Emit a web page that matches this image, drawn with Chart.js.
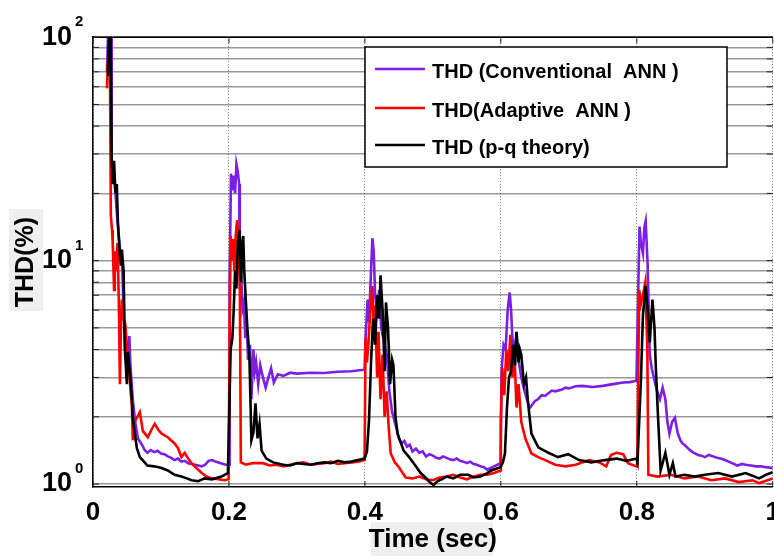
<!DOCTYPE html>
<html>
<head>
<meta charset="utf-8">
<script src="https://cdn.jsdelivr.net/npm/chart.js@4.4.1/dist/chart.umd.min.js"></script>
<style>
  html, body { margin: 0; padding: 0; background: #fff; overflow: hidden; }
  canvas { display: block; }
</style>
</head>
<body>
<canvas id="thdChart" width="790" height="556"></canvas>
<script>
const FONT = "'Liberation Sans', Arial, sans-serif";

// axes
const xTicks = [0, 0.2, 0.4, 0.6, 0.8, 1];
const yTicks = [1, 2, 3, 4, 5, 6, 7, 8, 9, 10, 20, 30, 40, 50, 60, 70, 80, 90, 100];
const yExponents = { 1: '0', 10: '1', 100: '2' };

const seriesNames = ['THD (Conventional  ANN )', 'THD(Adaptive  ANN )', 'THD (p-q theory)'];
const seriesColors = ['#7d1ee6', '#ff0000', '#000000'];

// [time (s), THD (%)]
const thdConventional = [
  [0.0205, 70], [0.022, 100], [0.0265, 100], [0.0275, 28], [0.030, 26], [0.033, 20], [0.036, 15], [0.040, 11],
  [0.043, 9.5], [0.045, 6], [0.047, 4.2], [0.050, 3.2], [0.0535, 4.6], [0.055, 3.4], [0.0585, 2.4], [0.062, 1.9],
  [0.066, 1.6], [0.072, 1.5], [0.076, 1.42], [0.080, 1.38], [0.085, 1.42], [0.090, 1.39], [0.095, 1.41], [0.100, 1.37],
  [0.105, 1.36], [0.110, 1.33], [0.115, 1.31], [0.120, 1.28], [0.125, 1.3], [0.130, 1.26], [0.135, 1.27], [0.140, 1.24],
  [0.150, 1.22], [0.160, 1.2], [0.165, 1.22], [0.170, 1.27], [0.175, 1.28], [0.180, 1.26], [0.188, 1.24], [0.195, 1.22],
  [0.2005, 1.22],
  [0.201, 8], [0.203, 24.5], [0.205, 20.6], [0.207, 24], [0.209, 20], [0.211, 27], [0.213, 25], [0.215, 22],
  [0.216, 7.4], [0.218, 8.5], [0.220, 6.1], [0.222, 6.5], [0.224, 4.5], [0.226, 5.5], [0.228, 3.6], [0.231, 4.2],
  [0.233, 2.4], [0.236, 4.0], [0.238, 3.2], [0.240, 3.5], [0.243, 2.8], [0.246, 3.4], [0.250, 3.0], [0.254, 2.7],
  [0.258, 3.0], [0.262, 3.3], [0.266, 2.85], [0.272, 3.1], [0.280, 3.05], [0.290, 3.15], [0.300, 3.12], [0.320, 3.15],
  [0.340, 3.14], [0.360, 3.18], [0.380, 3.2], [0.3995, 3.25],
  [0.401, 4.5], [0.404, 6.7], [0.406, 5.3], [0.409, 9], [0.411, 12.6], [0.413, 11], [0.415, 7], [0.418, 6],
  [0.421, 7.4], [0.424, 5], [0.427, 4.5], [0.432, 3.8], [0.436, 2.6], [0.440, 2.1], [0.447, 1.75], [0.450, 1.6],
  [0.454, 1.52], [0.458, 1.56], [0.462, 1.47], [0.466, 1.5], [0.470, 1.4], [0.475, 1.44], [0.480, 1.38], [0.485, 1.4],
  [0.490, 1.33], [0.495, 1.36], [0.500, 1.34], [0.505, 1.31], [0.510, 1.3], [0.515, 1.33], [0.520, 1.31], [0.525, 1.29],
  [0.530, 1.28], [0.535, 1.3], [0.540, 1.27], [0.545, 1.26], [0.550, 1.24], [0.555, 1.26], [0.560, 1.23], [0.565, 1.22],
  [0.570, 1.2], [0.575, 1.19], [0.580, 1.16], [0.585, 1.18], [0.590, 1.2], [0.595, 1.22], [0.5995, 1.24],
  [0.601, 3.2], [0.604, 4.2], [0.607, 4.0], [0.610, 6.0], [0.613, 7.2], [0.615, 6], [0.617, 4.5], [0.620, 3.8],
  [0.623, 4.8], [0.626, 3.6], [0.630, 3.0], [0.635, 2.6], [0.640, 2.3], [0.643, 2.2], [0.650, 2.35], [0.655, 2.4],
  [0.660, 2.5], [0.665, 2.48], [0.670, 2.55], [0.675, 2.62], [0.680, 2.6], [0.690, 2.65], [0.695, 2.7], [0.700, 2.68],
  [0.710, 2.74], [0.720, 2.75], [0.735, 2.72], [0.750, 2.75], [0.765, 2.8], [0.780, 2.85], [0.790, 2.86], [0.7995, 2.9],
  [0.801, 5.1], [0.804, 14.2], [0.806, 12], [0.809, 10.8], [0.811, 14], [0.813, 15], [0.816, 9.5], [0.819, 3.8],
  [0.822, 3.3], [0.826, 2.9], [0.830, 2.6], [0.834, 2.4], [0.838, 2.7], [0.842, 2.4], [0.845, 1.9], [0.848, 1.68],
  [0.852, 1.9], [0.856, 1.98], [0.860, 1.7], [0.864, 1.57], [0.867, 1.52], [0.870, 1.5], [0.874, 1.46], [0.879, 1.41],
  [0.884, 1.38], [0.890, 1.35], [0.895, 1.34], [0.900, 1.32], [0.906, 1.35], [0.912, 1.33], [0.918, 1.31], [0.923, 1.3],
  [0.930, 1.28], [0.935, 1.26], [0.940, 1.24], [0.948, 1.21], [0.955, 1.23], [0.960, 1.22], [0.968, 1.21], [0.975, 1.2],
  [0.983, 1.2], [0.990, 1.19], [1.0, 1.18]
];

const thdAdaptive = [
  [0.0205, 59], [0.022, 77], [0.025, 75], [0.0262, 16], [0.028, 13.7], [0.029, 12], [0.031, 7.4], [0.032, 11],
  [0.034, 9], [0.036, 12], [0.038, 6.5], [0.0396, 2.8], [0.041, 5], [0.0425, 6.7], [0.045, 5.5], [0.0475, 5.2],
  [0.0513, 3.65], [0.0545, 2.8], [0.0571, 2.28], [0.0586, 1.57], [0.0615, 1.9], [0.0645, 1.98], [0.0689, 2.1], [0.0733, 1.73],
  [0.0806, 1.62], [0.086, 1.75], [0.0908, 1.86], [0.096, 1.75], [0.101, 1.68], [0.11, 1.62], [0.12, 1.52], [0.125, 1.45],
  [0.13, 1.32], [0.135, 1.38], [0.14, 1.3], [0.145, 1.24], [0.152, 1.18], [0.16, 1.12], [0.167, 1.08], [0.174, 1.06],
  [0.185, 1.05], [0.193, 1.04], [0.1995, 1.05],
  [0.201, 5], [0.2025, 12.9], [0.204, 10], [0.206, 12.5], [0.208, 9], [0.210, 13], [0.212, 15.2], [0.214, 12],
  [0.216, 8], [0.2175, 1.25], [0.225, 1.22], [0.235, 1.24], [0.25, 1.24], [0.26, 1.21], [0.27, 1.22], [0.28, 1.2],
  [0.29, 1.22], [0.30, 1.24], [0.31, 1.25], [0.32, 1.22], [0.33, 1.23], [0.34, 1.24], [0.35, 1.26], [0.36, 1.23],
  [0.37, 1.24], [0.38, 1.25], [0.39, 1.26], [0.3995, 1.28],
  [0.401, 4.5], [0.403, 3.5], [0.405, 4.2], [0.408, 6.0], [0.411, 7.7], [0.413, 5.0], [0.415, 6.3], [0.418, 3.0],
  [0.420, 4.8], [0.423, 2.4], [0.426, 3.8], [0.429, 2.0], [0.432, 2.6], [0.435, 1.8], [0.438, 1.37], [0.444, 1.25],
  [0.45, 1.19], [0.46, 1.07], [0.47, 1.06], [0.48, 1.08], [0.49, 1.05], [0.50, 1.04], [0.51, 1.07], [0.52, 1.08],
  [0.53, 1.1], [0.54, 1.07], [0.55, 1.05], [0.56, 1.08], [0.57, 1.1], [0.58, 1.1], [0.59, 1.12], [0.5995, 1.15],
  [0.600, 1.92], [0.602, 3.3], [0.605, 2.5], [0.608, 4.0], [0.611, 3.2], [0.614, 4.65], [0.617, 3.0], [0.620, 3.8],
  [0.623, 2.2], [0.626, 2.8], [0.630, 1.9], [0.636, 1.6], [0.645, 1.37], [0.655, 1.32], [0.665, 1.28], [0.68, 1.22],
  [0.695, 1.2], [0.71, 1.22], [0.73, 1.28], [0.745, 1.25], [0.755, 1.2], [0.762, 1.35], [0.77, 1.38], [0.78, 1.36],
  [0.787, 1.24], [0.7995, 1.2],
  [0.8005, 1.2], [0.8035, 7.4], [0.806, 6.4], [0.809, 7.0], [0.8125, 8], [0.8155, 4], [0.817, 1.1], [0.83, 1.08],
  [0.85, 1.1], [0.87, 1.06], [0.89, 1.08], [0.91, 1.04], [0.93, 1.06], [0.95, 1.02], [0.97, 1.04], [0.98, 1.01],
  [1.0, 1.06]
];

const thdPq = [
  [0.0205, 68], [0.022, 68], [0.0235, 100], [0.026, 98], [0.0275, 29], [0.029, 22], [0.031, 28], [0.033, 20],
  [0.035, 22], [0.0366, 15], [0.039, 11.2], [0.041, 9.5], [0.0425, 11.2], [0.045, 9], [0.0469, 4], [0.0498, 2.8],
  [0.0513, 3.9], [0.0542, 3.2], [0.0571, 2.4], [0.0586, 1.98], [0.0615, 1.68], [0.0645, 1.45], [0.0689, 1.32], [0.075, 1.26],
  [0.08, 1.21], [0.09, 1.2], [0.101, 1.18], [0.11, 1.15], [0.12, 1.1], [0.13, 1.08], [0.138, 1.06], [0.145, 1.04],
  [0.155, 1.03], [0.164, 1.06], [0.175, 1.05], [0.189, 1.08], [0.1985, 1.12],
  [0.201, 2.5], [0.2025, 4.0], [0.205, 4.5], [0.207, 6], [0.209, 9], [0.211, 7.5], [0.213, 12], [0.2155, 13.7],
  [0.218, 8], [0.2195, 12], [0.221, 12.9], [0.2225, 9], [0.224, 7.4], [0.227, 5], [0.230, 3.8], [0.233, 1.57],
  [0.236, 1.7], [0.239, 2.3], [0.242, 1.6], [0.245, 1.86], [0.248, 1.41], [0.255, 1.3], [0.265, 1.25], [0.28, 1.22],
  [0.29, 1.21], [0.30, 1.24], [0.31, 1.23], [0.32, 1.22], [0.33, 1.24], [0.34, 1.25], [0.35, 1.24], [0.36, 1.27],
  [0.37, 1.25], [0.38, 1.26], [0.39, 1.28], [0.3995, 1.3],
  [0.403, 1.4], [0.406, 1.92], [0.409, 3.5], [0.412, 5.5], [0.415, 4.2], [0.418, 7.0], [0.421, 5.5], [0.423, 8.6],
  [0.426, 6.0], [0.429, 3.2], [0.431, 6.5], [0.434, 5.0], [0.437, 2.8], [0.440, 3.6], [0.442, 3.4], [0.445, 2.0],
  [0.448, 1.68], [0.457, 1.41], [0.465, 1.32], [0.475, 1.2], [0.482, 1.12], [0.489, 1.07], [0.495, 1.02], [0.501, 0.99],
  [0.507, 1.03], [0.513, 1.05], [0.52, 1.08], [0.53, 1.06], [0.54, 1.1], [0.552, 1.1], [0.56, 1.07], [0.57, 1.08],
  [0.58, 1.12], [0.586, 1.15], [0.5995, 1.19],
  [0.603, 1.25], [0.606, 1.37], [0.609, 2.2], [0.612, 3.0], [0.615, 3.2], [0.618, 4.2], [0.621, 3.4], [0.623, 4.8],
  [0.626, 3.5], [0.628, 4.0], [0.630, 3.8], [0.634, 2.8], [0.637, 3.0], [0.640, 2.3], [0.645, 1.68], [0.655, 1.46],
  [0.67, 1.38], [0.684, 1.32], [0.699, 1.36], [0.715, 1.28], [0.733, 1.25], [0.753, 1.28], [0.77, 1.3], [0.785, 1.27],
  [0.7995, 1.3],
  [0.801, 1.25], [0.806, 2.9], [0.809, 5.7], [0.813, 7.7], [0.816, 6.0], [0.819, 4.3], [0.823, 6.7], [0.826, 5],
  [0.828, 3.3], [0.831, 2.06], [0.835, 1.15], [0.842, 1.38], [0.848, 1.1], [0.853, 1.24], [0.857, 1.08], [0.87, 1.1],
  [0.885, 1.08], [0.9, 1.1], [0.92, 1.12], [0.94, 1.08], [0.96, 1.12], [0.98, 1.06], [0.99, 1.1], [1.0, 1.13]
];

const toPoints = pairs => pairs.map(([t, v]) => ({ x: t, y: v }));

// grey boxes behind the axis titles, MATLAB style
const titleBackground = {
  id: 'titleBackground',
  beforeDraw(chart) {
    const { ctx, chartArea } = chart;
    const cx = (chartArea.left + chartArea.right) / 2;
    const cy = (chartArea.top + chartArea.bottom) / 2;
    ctx.save();
    ctx.fillStyle = '#efefef';
    ctx.fillRect(cx - 62, 522, 122, 34);
    ctx.fillRect(9, cy - 53, 34, 102);
    ctx.restore();
  }
};

// top frame line, inner ticks, exponents, legend box
const frameAndLegend = {
  id: 'frameAndLegend',
  afterDraw(chart) {
    const { ctx, chartArea, scales } = chart;
    ctx.save();
    ctx.strokeStyle = '#000';
    ctx.lineWidth = 1.5;
    ctx.beginPath();
    ctx.moveTo(chartArea.left, chartArea.top);
    ctx.lineTo(chartArea.right, chartArea.top);
    ctx.stroke();

    // small inward ticks
    ctx.lineWidth = 1;
    ctx.strokeStyle = '#222';
    yTicks.forEach(v => {
      const y = scales.y.getPixelForValue(v);
      ctx.beginPath();
      ctx.moveTo(chartArea.left, y); ctx.lineTo(chartArea.left + 6, y);
      ctx.moveTo(chartArea.right - 6, y); ctx.lineTo(chartArea.right, y);
      ctx.stroke();
    });
    xTicks.forEach(v => {
      const x = scales.x.getPixelForValue(v);
      ctx.beginPath();
      ctx.moveTo(x, chartArea.top); ctx.lineTo(x, chartArea.top + 6);
      ctx.moveTo(x, chartArea.bottom); ctx.lineTo(x, chartArea.bottom - 6);
      ctx.stroke();
    });

    // exponents of the y tick labels
    ctx.fillStyle = '#000';
    ctx.font = 'bold 15px ' + FONT;
    ctx.textAlign = 'left';
    ctx.textBaseline = 'middle';
    Object.keys(yExponents).forEach(v => {
      const y = scales.y.getPixelForValue(Number(v));
      ctx.fillText(yExponents[v], 75, y - 15);
    });

    // legend
    const bx = 365, by = 47, bw = 362, bh = 120;
    ctx.fillStyle = '#fff';
    ctx.fillRect(bx, by, bw, bh);
    ctx.strokeStyle = '#000';
    ctx.lineWidth = 1.5;
    ctx.strokeRect(bx, by, bw, bh);
    const rows = [69, 108, 145];
    ctx.font = 'bold 20px ' + FONT;
    seriesNames.forEach((name, i) => {
      ctx.strokeStyle = seriesColors[i];
      ctx.lineWidth = 2.5;
      ctx.beginPath();
      ctx.moveTo(bx + 10, rows[i]);
      ctx.lineTo(bx + 60, rows[i]);
      ctx.stroke();
      ctx.fillStyle = '#000';
      ctx.fillText(name, bx + 67, rows[i] + 3);
    });
    ctx.restore();
  }
};

new Chart(document.getElementById('thdChart'), {
  type: 'line',
  data: {
    datasets: [
      { label: seriesNames[0], data: toPoints(thdConventional), borderColor: seriesColors[0], order: 2 },
      { label: seriesNames[1], data: toPoints(thdAdaptive), borderColor: seriesColors[1], order: 1 },
      { label: seriesNames[2], data: toPoints(thdPq), borderColor: seriesColors[2], order: 0 }
    ]
  },
  options: {
    responsive: false,
    animation: false,
    layout: { padding: { left: 0, right: 14, top: 32, bottom: 0 } },
    elements: {
      point: { radius: 0 },
      line: { borderWidth: 2.6, tension: 0, fill: false }
    },
    plugins: {
      legend: { display: false },
      tooltip: { enabled: false }
    },
    scales: {
      x: {
        type: 'linear',
        min: 0,
        max: 1,
        afterBuildTicks: s => { s.ticks = xTicks.map(v => ({ value: v })); },
        afterFit: s => { s.height = 69; },
        ticks: {
          autoSkip: false,
          maxRotation: 0,
          padding: 10,
          color: '#000',
          font: { family: FONT, size: 26, weight: 'bold' },
          callback: v => String(v)
        },
        grid: { color: '#6e6e6e', lineWidth: 1, drawTicks: false },
        border: { display: true, color: '#000', width: 1.5, dash: [1, 2] },
        title: {
          display: true,
          text: 'Time (sec)',
          color: '#000',
          font: { family: FONT, size: 26, weight: 'bold' },
          padding: { top: 0, bottom: 1 }
        }
      },
      y: {
        type: 'logarithmic',
        min: 0.97,
        max: 100,
        afterBuildTicks: s => { s.ticks = yTicks.map(v => ({ value: v })); },
        afterFit: s => { s.width = 93; },
        ticks: {
          autoSkip: false,
          padding: 21,
          color: '#000',
          font: { family: FONT, size: 27, weight: 'bold' },
          callback: v => (yExponents[v] !== undefined ? '10' : '')
        },
        grid: { color: 'rgba(110,110,110,0.7)', lineWidth: 1.5, drawTicks: false },
        border: { display: true, color: '#000', width: 1.5 },
        title: {
          display: true,
          text: 'THD(%)',
          color: '#000',
          font: { family: FONT, size: 25, weight: 'bold' },
          padding: { top: 11, bottom: 0 }
        }
      }
    }
  },
  plugins: [titleBackground, frameAndLegend]
});
</script>
</body>
</html>
